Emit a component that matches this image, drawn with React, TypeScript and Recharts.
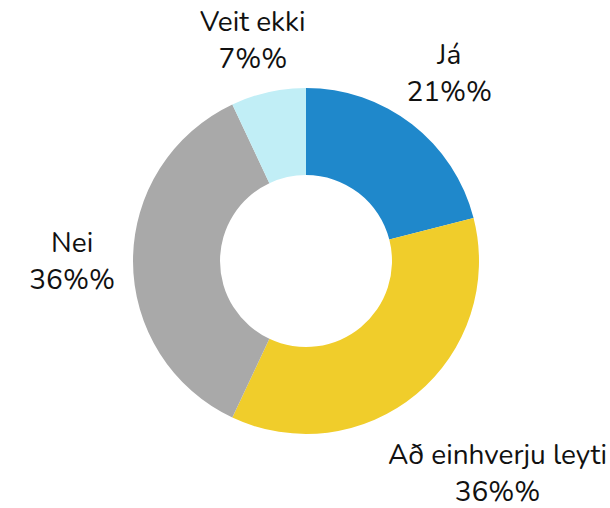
import React from "react";
import { PieChart, Pie, Cell } from "recharts";

const categories = ["Já", "Að einhverju leyti", "Nei", "Veit ekki"];
const values = [21, 36, 36, 7];
const colors = ["#1F88CB", "#F0CD2B", "#A9A9A9", "#C1EEF6"];

const data = categories.map((name, i) => ({ name, value: values[i] }));

const FONT_SIZE = 28;
const FONT = `${FONT_SIZE}px Nunito, Lato, sans-serif`;
const LINE = 37;
const RAD = Math.PI / 180;

let ctx: CanvasRenderingContext2D | null = null;
function measure(t: string): number {
  if (!ctx) {
    const c = document.createElement("canvas");
    ctx = c.getContext("2d");
  }
  if (!ctx) return t.length * FONT_SIZE * 0.5;
  ctx.font = FONT;
  return ctx.measureText(t).width;
}

const renderLabel = (props: any) => {
  const { cx, cy, midAngle, outerRadius, name, value } = props;
  const l1 = String(name);
  const l2 = `${value}%%`;
  const w = Math.max(measure(l1), measure(l2));
  const h = 74;
  const r = outerRadius + 18;
  const c = Math.cos(-midAngle * RAD);
  const s = Math.sin(-midAngle * RAD);
  const ax = cx + r * c;
  const ay = cy + r * s;
  const fy = Math.sign(s) * Math.min(1, Math.abs(s) * 1.25);
  const bx = Math.min(ax + (c * w) / 2, 608 - w / 2);
  let by = ay + (fy * h) / 2;
  if (s > 0.05) by += 30;
  if (s < -0.95) by += 3;
  return (
    <text
      x={bx}
      y={by}
      textAnchor="middle"
      fill="#111111"
      style={{ font: FONT }}
    >
      <tspan x={bx} y={by - LINE / 2} dominantBaseline="central">
        {l1}
      </tspan>
      <tspan x={bx} y={by + LINE / 2} dominantBaseline="central">
        {l2}
      </tspan>
    </text>
  );
};

export default function App() {
  return (
    <div style={{ position: "absolute", left: 0, top: 0, background: "#fff" }}>
      <PieChart width={610} height={508} margin={{ top: 0, right: 0, bottom: 0, left: 0 }}>
        <Pie
          data={data}
          dataKey="value"
          nameKey="name"
          cx={306}
          cy={261}
          innerRadius={86}
          outerRadius={173}
          startAngle={90}
          endAngle={-270}
          stroke="none"
          label={renderLabel}
          labelLine={false}
          isAnimationActive={false}
        >
          {data.map((d, i) => (
            <Cell key={d.name} fill={colors[i]} />
          ))}
        </Pie>
      </PieChart>
    </div>
  );
}
